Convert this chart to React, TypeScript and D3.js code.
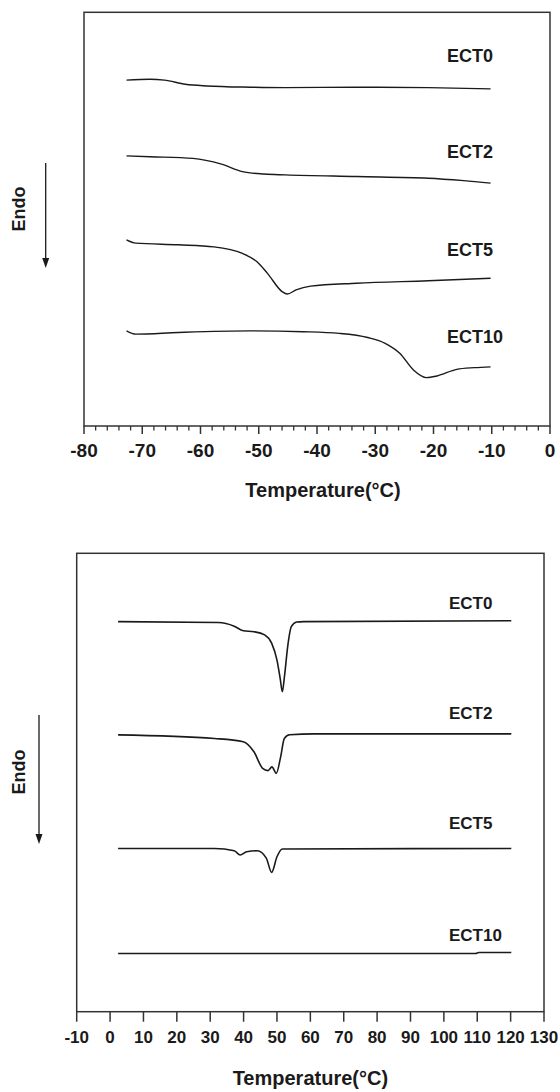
import React from "react";
import * as d3 from "d3";

// ---------- DATA ----------
// Top panel: cooling scan (temperature °C, heat flow a.u., offset stacked)
const topSeries = ["ECT0", "ECT2", "ECT5", "ECT10"];
const topECT0: [number, number][] = [
  [-72.7, 83.6], [-68.7, 83.8], [-66.2, 83.6], [-62.6, 82.6], [-58.9, 82.2],
  [-51.5, 81.9], [-45.4, 81.8], [-33.2, 81.9], [-20.9, 81.8], [-10.2, 81.5],
];
const topECT2: [number, number][] = [
  [-72.7, 65.3], [-68.7, 65.1], [-61.3, 64.7], [-56.4, 63.3], [-52.8, 61.5],
  [-49.1, 60.9], [-45.4, 60.7], [-33.2, 60.3], [-20.9, 59.9], [-14.8, 59.3], [-10.2, 58.7],
];
const topECT5: [number, number][] = [
  [-72.7, 45.0], [-71.1, 44.2], [-63.8, 43.8], [-57.7, 43.3], [-52.8, 41.7],
  [-50.3, 39.7], [-48.5, 36.9], [-46.0, 32.5], [-45.1, 31.9], [-43.6, 32.9],
  [-41.1, 33.8], [-33.2, 34.5], [-20.9, 35.1], [-10.2, 35.7],
];
const topECT10: [number, number][] = [
  [-72.7, 23.0], [-71.1, 22.2], [-63.8, 22.6], [-51.5, 23.0], [-42.4, 22.8],
  [-36.2, 22.4], [-31.3, 21.4], [-28.3, 20.0], [-25.8, 17.6], [-23.4, 13.5],
  [-21.2, 11.7], [-19.4, 12.1], [-16.0, 13.7], [-13.0, 14.1], [-10.2, 14.3],
];
const topLabelY = [88.1, 64.9, 41.2, 20.1];

// Bottom panel: heating scan
const botECT0: [number, number][] = [
  [2.4, 85.1], [32.4, 84.9], [37.2, 84.1], [39.9, 83.1], [43.1, 82.9], [46.3, 82.2],
  [48.4, 80.4], [50.0, 76.7], [51.0, 72.5], [51.6, 69.8], [52.3, 73.5], [53.2, 79.6],
  [54.3, 84.0], [55.9, 85.0], [58.0, 85.1], [120.2, 85.3],
];
const botECT2: [number, number][] = [
  [2.4, 60.4], [31.3, 59.6], [39.9, 58.9], [43.1, 56.7], [45.7, 53.1], [47.3, 52.6],
  [48.5, 53.4], [49.8, 52.0], [51.1, 55.6], [52.2, 59.6], [53.8, 60.4], [61.3, 60.6], [120.2, 60.6],
];
const botECT5: [number, number][] = [
  [2.4, 35.6], [31.3, 35.6], [37.2, 35.1], [39.0, 34.2], [40.9, 34.9], [44.1, 35.1],
  [46.8, 33.5], [48.4, 30.4], [50.0, 33.8], [51.6, 35.5], [120.2, 35.6],
];
const botECT10: [number, number][] = [
  [2.4, 12.7], [109.5, 12.7], [110.5, 12.9], [120.2, 12.9],
];
const botSeries = ["ECT0", "ECT2", "ECT5", "ECT10"];
const botLabelY = [87.8, 63.8, 39.8, 15.4];

const topTicks = [-80, -70, -60, -50, -40, -30, -20, -10, 0];
const botTicks = [-10, 0, 10, 20, 30, 40, 50, 60, 70, 80, 90, 100, 110, 120, 130];
const xTitle = "Temperature(°C)";
const yLabel = "Endo";

const FONT = "'Liberation Sans', Arial, Helvetica, sans-serif";
const INK = "#1a1a1a";

type PanelProps = {
  x0: number; x1: number; y0: number; y1: number;
  domain: [number, number];
  ticks: number[];
  minorStep: number | null;
  series: [number, number][][];
  names: string[];
  labelY: number[];
  labelX: number;
  tickFont: number;
  tickLen: number;
  tickLabelDy: number;
  titleY: number;
  titleDx: number;
  endo: { x: number; y: number; ax: number; ay0: number; ay1: number };
  labelFont: number;
  strokeW: number;
};

function Panel(p: PanelProps) {
  const x = d3.scaleLinear().domain(p.domain).range([p.x0, p.x1]);
  const y = d3.scaleLinear().domain([0, 100]).range([p.y1, p.y0]);
  const line = d3
    .line<[number, number]>()
    .x((d) => x(d[0]))
    .y((d) => y(d[1]))
    .curve(d3.curveMonotoneX);
  const minors: number[] = [];
  if (p.minorStep) {
    for (let v = p.domain[0]; v <= p.domain[1] + 1e-9; v += p.minorStep) {
      if (!p.ticks.some((t) => Math.abs(t - v) < 1e-6)) minors.push(v);
    }
  }
  return (
    <g>
      <rect
        x={p.x0}
        y={p.y0}
        width={p.x1 - p.x0}
        height={p.y1 - p.y0}
        fill="none"
        stroke="#333"
        strokeWidth={1.5}
      />
      {p.ticks.map((t) => (
        <g key={"t" + t}>
          <line x1={x(t)} x2={x(t)} y1={p.y1} y2={p.y1 + p.tickLen} stroke="#333" strokeWidth={1.5} />
          <text
            x={x(t)}
            y={p.y1 + p.tickLabelDy}
            textAnchor="middle"
            fontFamily={FONT}
            fontWeight="bold"
            fontSize={p.tickFont}
            fill={INK}
          >
            {String(t)}
          </text>
        </g>
      ))}
      {minors.map((t) => (
        <line key={"m" + t} x1={x(t)} x2={x(t)} y1={p.y1} y2={p.y1 + 4.5} stroke="#333" strokeWidth={1.3} />
      ))}
      {p.series.map((s, i) => (
        <path key={"s" + i} d={line(s) || ""} fill="none" stroke={INK} strokeWidth={p.strokeW} strokeLinejoin="round" />
      ))}
      {p.names.map((n, i) => (
        <text
          key={"n" + n}
          x={p.labelX}
          y={y(p.labelY[i])}
          fontFamily={FONT}
          fontWeight="bold"
          fontSize={p.labelFont}
          fill={INK}
        >
          {n}
        </text>
      ))}
      <text
        x={(p.x0 + p.x1) / 2 + p.titleDx}
        y={p.titleY}
        textAnchor="middle"
        fontFamily={FONT}
        fontWeight="bold"
        fontSize={20}
        fill={INK}
      >
        {xTitle}
      </text>
      <text
        transform={`translate(${p.endo.x},${p.endo.y}) rotate(-90)`}
        textAnchor="middle"
        dominantBaseline="central"
        fontFamily={FONT}
        fontWeight="bold"
        fontSize={18}
        fill={INK}
      >
        {yLabel}
      </text>
      <line
        x1={p.endo.ax}
        x2={p.endo.ax}
        y1={p.endo.ay0}
        y2={p.endo.ay1 - 8}
        stroke={INK}
        strokeWidth={1.3}
      />
      <path
        d={`M${p.endo.ax - 3.5},${p.endo.ay1 - 10} L${p.endo.ax + 3.5},${p.endo.ay1 - 10} L${p.endo.ax},${p.endo.ay1} Z`}
        fill={INK}
      />
    </g>
  );
}

export default function App() {
  return (
    <svg
      width={560}
      height={1092}
      style={{ position: "absolute", left: 0, top: 0, background: "#fff" }}
    >
      <rect x={0} y={0} width={560} height={1092} fill="#fff" />
      <Panel
        x0={84}
        x1={550}
        y0={12.3}
        y1={426}
        domain={[-80, 0]}
        ticks={topTicks}
        minorStep={2}
        series={[topECT0, topECT2, topECT5, topECT10]}
        names={topSeries}
        labelY={topLabelY}
        labelX={447}
        tickFont={19}
        tickLen={8}
        tickLabelDy={30.5}
        titleY={496.5}
        titleDx={6}
        endo={{ x: 18.6, y: 209, ax: 45.7, ay0: 163, ay1: 268 }}
        labelFont={18}
        strokeW={1.4}
      />
      <Panel
        x0={76.7}
        x1={544}
        y0={553.3}
        y1={1011.7}
        domain={[-10, 130]}
        ticks={botTicks}
        minorStep={null}
        series={[botECT0, botECT2, botECT5, botECT10]}
        names={botSeries}
        labelY={botLabelY}
        labelX={449}
        tickFont={17}
        tickLen={10}
        tickLabelDy={31.5}
        titleY={1084.5}
        titleDx={0}
        endo={{ x: 18.6, y: 772, ax: 39, ay0: 715, ay1: 844 }}
        labelFont={17}
        strokeW={1.6}
      />
    </svg>
  );
}
